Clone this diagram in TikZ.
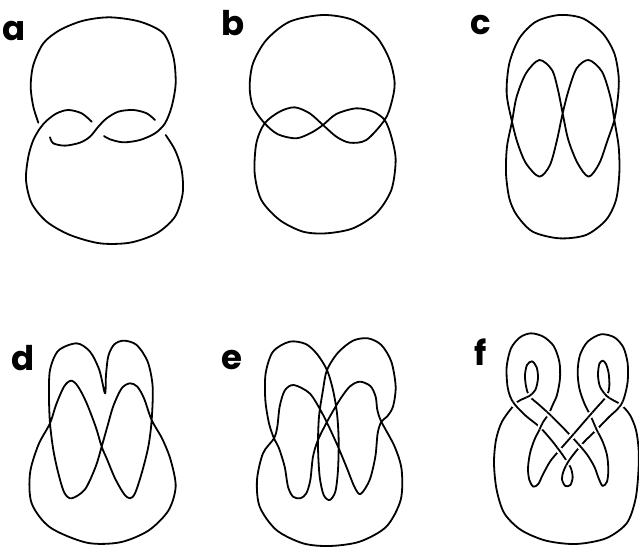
\documentclass[tikz,border=0pt]{standalone}
\usepackage{fontspec}
\setmainfont{Poppins}
\tikzset{
  knot/.style={line width=0.9pt, line cap=round, line join=round},
  lab/.style={font=\fontsize{17}{20}\selectfont\bfseries, inner sep=0pt},
}
\newcommand\fcross[2]{%
  \fill[white] #1 circle (10);
  \begin{scope}\clip #1 circle (10);
    \draw[knot] plot[smooth] coordinates {#2};
  \end{scope}}
\begin{document}
\begin{tikzpicture}[x=0.5pt,y=-0.5pt]
\useasboundingbox[fill=white] (0,0) rectangle (639,550);
% labels
\node[lab] (la) at (14,31.5) {a};
\node[lab] (lb) at (233,23.5) {b};
\node[lab] (lc) at (481,25) {c};
\node[lab] (ld) at (23.5,358) {d};
\node[lab] (le) at (232,360) {e};
\node[lab] (lf) at (481,352) {f};

% ---------- a ----------
\begin{scope}[shift={(0,0)}]\begin{scope}[scale=1/3]
\draw[knot] plot[smooth] coordinates {(115,368)(100,320)(92,260)(100,195)(130,130)(180,90)(250,62)(330,52)(420,65)(490,100)(520,170)(527,250)(515,320)(495,370)(465,400)(420,420)(370,427)(330,418)(312,408)};
\draw[knot] plot[smooth] coordinates {(275,365)(245,340)(205,330)(170,340)(140,362)(120,385)(100,420)(85,470)(78,540)(95,610)(140,665)(210,705)(300,730)(390,728)(470,700)(525,650)(548,580)(545,510)(525,450)(497,405)};
\draw[knot] plot[smooth] coordinates {(465,360)(440,340)(400,330)(355,335)(320,355)(295,380)(270,410)(240,428)(195,437)(160,430)(150,412)};
\end{scope}\end{scope}

% ---------- b ----------
\begin{scope}[shift={(213,0)}]\begin{scope}[scale=1/3]
\draw[knot] plot[smooth cycle] coordinates {(155,370)(195,403)(250,415)(295,398)(330,375)(370,342)(430,325)(480,335)(515,360)(535,410)(548,480)(535,570)(490,640)(420,685)(340,700)(270,695)(200,660)(145,600)(125,520)(130,430)(155,370)(200,335)(245,322)(290,340)(330,375)(370,410)(410,428)(460,420)(515,360)(535,310)(545,250)(530,180)(490,110)(420,60)(330,45)(230,65)(160,120)(120,190)(110,260)(120,320)};
\end{scope}\end{scope}

% ---------- c ----------
\begin{scope}[shift={(426,0)}]\begin{scope}[scale=1/3]
\draw[knot] plot[smooth cycle] coordinates {(258,365)(275,430)(300,490)(340,530)(372,495)(393,420)(410,340)(428,270)(452,205)(488,180)(528,215)(553,290)(565,360)(578,440)(580,520)(570,600)(540,660)(480,705)(400,715)(320,695)(272,645)(250,595)(240,520)(243,440)(258,365)(272,290)(300,220)(340,180)(378,210)(396,270)(410,340)(427,420)(455,490)(488,530)(520,490)(545,420)(565,360)(576,290)(578,230)(565,160)(530,100)(470,55)(400,45)(330,65)(280,115)(250,190)(242,280)};
\end{scope}\end{scope}

% ---------- d ----------
\begin{scope}[shift={(0,290)}]\begin{scope}[scale=1/3]
\draw[knot] plot[smooth cycle] coordinates {(230,160)(270,185)(298,240)(315,310)(318,255)(325,198)(343,163)(372,152)(410,165)(443,215)(458,290)(455,390)(445,470)(425,550)(405,610)(390,625)(372,612)(345,565)(322,510)(305,470)(287,410)(258,335)(233,288)(213,272)(192,290)(168,345)(150,400)(115,465)(90,550)(95,640)(150,712)(260,758)(360,757)(445,722)(505,662)(527,590)(512,510)(487,447)(455,390)(432,325)(412,290)(390,280)(365,295)(340,348)(322,410)(305,470)(287,530)(255,598)(215,625)(193,608)(175,550)(160,480)(150,400)(147,320)(150,240)(175,182)};
\end{scope}\end{scope}

% ---------- e ----------
\begin{scope}[shift={(213,290)}]\begin{scope}[scale=1/3]
\draw[knot] plot[smooth cycle] coordinates {(183,445)(168,400)(157,330)(158,250)(180,185)(230,155)(278,162)(312,192)(342,240)(360,300)(372,370)(377,450)(375,540)(367,605)(350,630)(332,615)(320,560)(315,470)(318,380)(330,300)(342,240)(375,188)(420,152)(465,145)(505,165)(535,215)(548,290)(540,350)(522,380)(505,395)(494,430)(487,500)(470,570)(443,612)(425,592)(400,530)(375,470)(350,415)(325,365)(290,310)(242,285)(215,302)(200,350)(193,410)(183,445)(150,490)(132,570)(140,650)(190,720)(270,760)(350,768)(440,755)(520,710)(563,630)(566,540)(545,470)(505,395)(493,360)(488,320)(472,288)(440,275)(410,290)(380,330)(345,390)(315,450)(300,500)(292,570)(280,610)(262,625)(240,620)(225,590)(215,530)(198,475)};
\end{scope}\end{scope}

% ---------- f ----------
\begin{scope}[shift={(426,290)}]\begin{scope}[scale=1/3]
\draw[knot] plot[smooth cycle] coordinates {(310,318)(340,345)(372,374)(410,412)(448,452)(482,492)(505,530)(518,565)(530,588)(543,575)(547,540)(543,495)(530,455)(512,419)(495,380)(475,340)(460,295)(455,245)(462,195)(485,155)(525,133)(565,142)(592,172)(605,220)(605,275)(596,318)(586,343)(570,362)(550,380)(512,419)(475,455)(445,490)(425,518)(412,545)(408,568)(418,588)(433,585)(440,562)(435,535)(425,518)(410,495)(380,455)(342,412)(300,378)(266,343)(252,318)(244,285)(242,230)(255,175)(282,142)(315,130)(352,140)(383,168)(400,215)(402,265)(393,315)(380,345)(368,372)(350,398)(340,420)(325,450)(312,490)(306,535)(310,570)(322,590)(337,582)(350,555)(372,515)(400,481)(437,439)(475,395)(510,355)(542,318)(550,290)(548,250)(540,222)(530,212)(520,222)(516,255)(522,290)(542,318)(564,332)(586,345)(612,375)(630,420)(638,480)(637,550)(628,630)(602,700)(540,745)(450,762)(360,752)(285,720)(235,670)(212,600)(204,520)(210,450)(228,395)(266,343)(288,328)(310,318)(328,300)(336,265)(332,232)(318,214)(303,225)(297,255)(300,288)};
\fcross{(266,343)}{(380,455)(342,412)(300,378)(266,343)(252,318)(244,285)(242,230)}
\fcross{(586,344)}{(605,220)(605,275)(596,318)(586,343)(570,362)(550,380)(512,419)}
\fcross{(310,318)}{(228,395)(266,343)(288,328)(310,318)(328,300)(336,265)(332,232)}
\fcross{(542,318)}{(520,222)(516,255)(522,290)(542,318)(564,332)(586,345)(612,375)}
\fcross{(369,372)}{(300,288)(310,318)(340,345)(372,374)(410,412)(448,452)(482,492)}
\fcross{(344,410)}{(393,315)(380,345)(368,372)(350,398)(340,420)(325,450)(312,490)(306,535)}
\fcross{(512,419)}{(547,540)(543,495)(530,455)(512,419)(495,380)(475,340)(460,295)}
\fcross{(493,375)}{(372,515)(400,481)(437,439)(475,395)(510,355)(542,318)(550,290)(548,250)}
\fcross{(425,518)}{(512,419)(475,455)(445,490)(425,518)(412,545)(408,568)(418,588)}
\fcross{(400,481)}{(440,562)(435,535)(425,518)(410,495)(380,455)(342,412)(300,378)(266,343)}
\fcross{(463,469)}{(340,345)(372,374)(410,412)(448,452)(482,492)(505,530)(518,565)(530,588)}
\fcross{(437,439)}{(350,555)(372,515)(400,481)(437,439)(475,395)(510,355)(542,318)}
\end{scope}\end{scope}
\end{tikzpicture}
\end{document}
